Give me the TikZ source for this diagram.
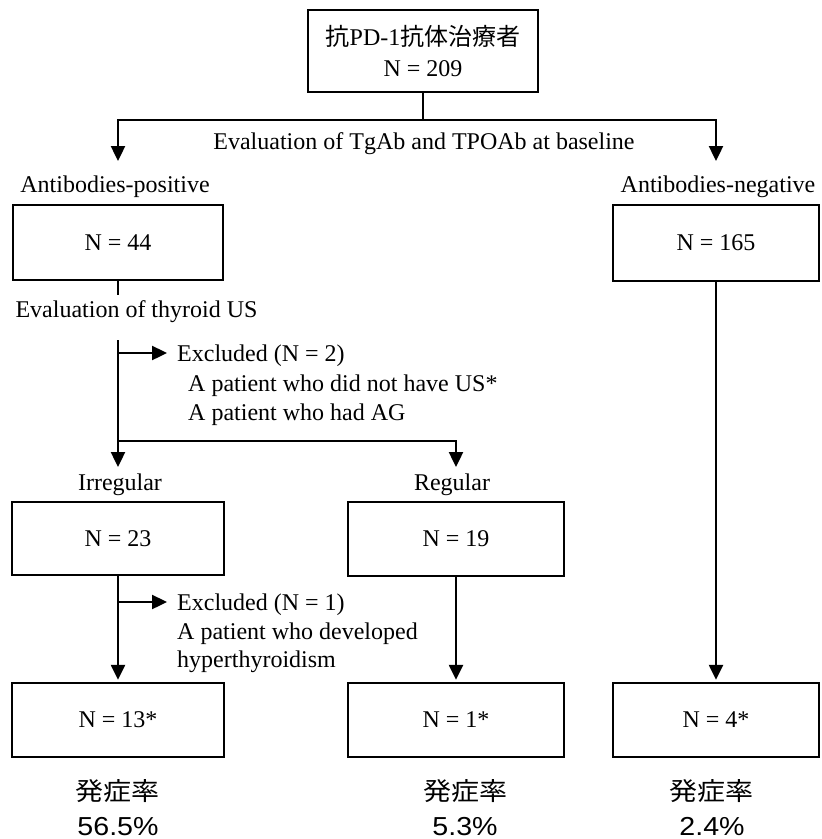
\documentclass[tikz,border=0pt]{standalone}
\usepackage{fontspec}
\setmainfont{Liberation Serif}
\newfontfamily\cjk{Noto Sans CJK JP}
\newfontfamily\rsans{Liberation Sans}
\usetikzlibrary{arrows.meta}
\begin{document}
\begin{tikzpicture}[x=1pt,y=-1pt,
  every node/.style={font=\fontsize{24}{29.5}\selectfont, inner sep=0pt},
  box/.style={draw, line width=2.4pt},
  conn/.style={line width=2.4pt},
  arr/.style={conn, -{Triangle[length=15pt,width=14pt]}, shorten >=2pt},
  ratecjk/.style={font=\cjk\fontsize{25}{30}\selectfont, anchor=base},
  ratenum/.style={font=\rsans\fontsize{26}{30}\selectfont, anchor=base},
  ]
\useasboundingbox (0,0) rectangle (822,839);
% boxes
\node[box, minimum width=230pt, minimum height=82pt, align=center, font=\fontsize{24}{31}\selectfont] (top) at (423,51) {{\cjk 抗}PD-1{\cjk 抗体治療者}\\N = 209};
\node[box, minimum width=210pt, minimum height=75pt] (pos) at (118,242.5) {N = 44};
\node[box, minimum width=206pt, minimum height=76pt] (neg) at (716,243) {N = 165};
\node[box, minimum width=212pt, minimum height=73pt] (irr) at (118,538.5) {N = 23};
\node[box, minimum width=216pt, minimum height=74pt] (reg) at (456,539) {N = 19};
\node[box, minimum width=212pt, minimum height=74pt] (n13) at (118,720) {N = 13*};
\node[box, minimum width=216pt, minimum height=74pt] (n1) at (456,720) {N = 1*};
\node[box, minimum width=206pt, minimum height=74pt] (n4) at (716,720) {N = 4*};
% labels
\node (eval1) at (424,144) {Evaluation of TgAb and TPOAb at baseline};
\node (poslbl) at (115,187) {Antibodies-positive};
\node (neglbl) at (718,187) {Antibodies-negative};
\node (eval2) at (136.5,312) {Evaluation of thyroid US};
\node[anchor=base west] (exa) at (177,361) {Excluded (N = 2)};
\node[anchor=base west] (exb) at (188,391) {A patient who did not have US*};
\node[anchor=base west] (exc) at (188,420) {A patient who had AG};
\node (irrlbl) at (120,485) {Irregular};
\node (reglbl) at (452,485) {Regular};
\node[anchor=base west] (exd) at (177,610) {Excluded (N = 1)};
\node[anchor=base west] (exe) at (177,639) {A patient who developed};
\node[anchor=base west] (exf) at (177,667) {hyperthyroidism};
\node[ratecjk] (c1) at (117,800) {\scalebox{1.12}[1]{発症率}};
\node[ratecjk] (c2) at (465,800) {\scalebox{1.12}[1]{発症率}};
\node[ratecjk] (c3) at (711,800) {\scalebox{1.12}[1]{発症率}};
\node[ratenum] (p1) at (118,835) {\scalebox{1.1}[1]{56.5\%}};
\node[ratenum] (p2) at (465,835) {\scalebox{1.1}[1]{5.3\%}};
\node[ratenum] (p3) at (712,835) {\scalebox{1.1}[1]{2.4\%}};
% connectors
\coordinate (j1) at (423,120);
\coordinate (pa) at (118,163);
\coordinate (na) at (716,163);
\draw[conn] (top.south) -- (j1);
\draw[arr] (j1) -| (pa);
\draw[arr] (j1) -| (na);
\coordinate (stub) at (118,295);
\draw[conn] (pos.south) -- (stub);
\coordinate (us) at (118,340);
\coordinate (irrtip) at (118,469);
\draw[arr] (us) -- (irrtip);
\coordinate (ex1) at (118,353);
\coordinate (ex1t) at (169,353);
\draw[arr] (ex1) -- (ex1t);
\coordinate (j2) at (118,441);
\coordinate (regtip) at (456,469);
\draw[arr] (j2) -| (regtip);
\draw[arr] (irr.south) -- (n13.north);
\coordinate (ex2) at (118,602);
\coordinate (ex2t) at (169,602);
\draw[arr] (ex2) -- (ex2t);
\draw[arr] (reg.south) -- (n1.north);
\draw[arr] (neg.south) -- (n4.north);
\end{tikzpicture}
\end{document}
